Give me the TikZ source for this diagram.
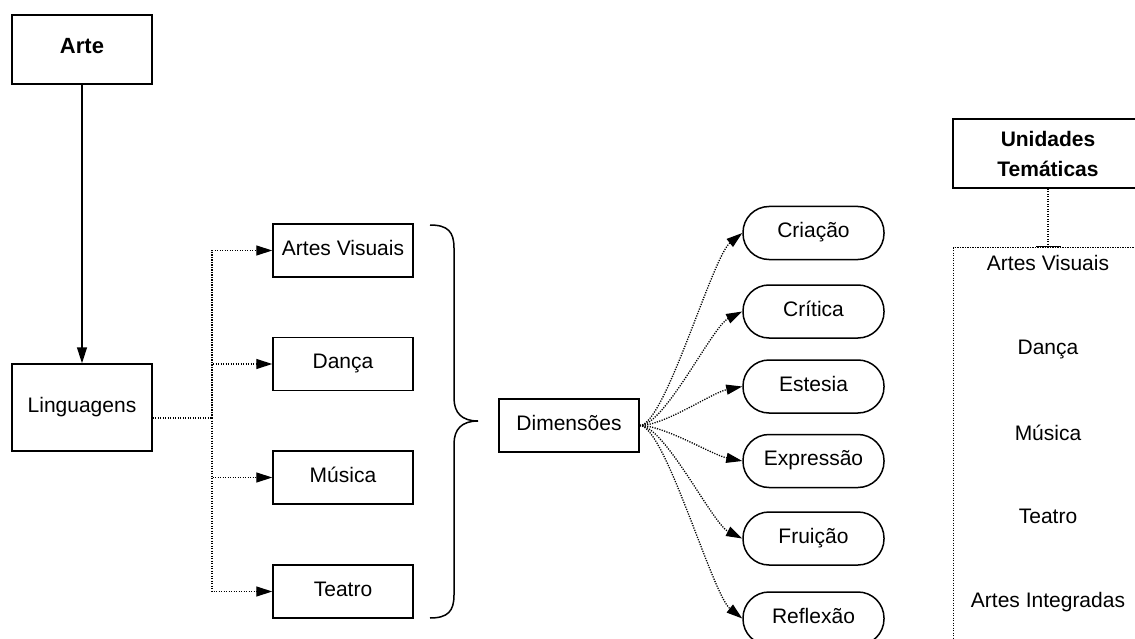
\documentclass[tikz,border=0pt]{standalone}
\usepackage{fontspec}
\setmainfont{Liberation Sans}
\usetikzlibrary{arrows.meta}
\begin{document}
\begin{tikzpicture}[x=1pt,y=-1pt,
  txt/.style={font=\fontsize{21}{25}\selectfont},
  basebox/.style={draw, line width=1.5pt, inner sep=0pt, minimum width=140pt,
    minimum height=53pt, align=center, txt},
  box/.style={basebox, text height=15pt, text depth=6pt},
  pill/.style={box, minimum width=141pt, rounded corners=26pt},
  lbl/.style={inner sep=0pt, txt, text height=15pt, text depth=0pt},
  dotline/.style={line width=1.3pt, dash pattern=on 1.2pt off 1.3pt},
  arrowhd/.style={-{Triangle[length=16pt,width=10pt]}},
]
\useasboundingbox (0,0) rectangle (1135,639);
\clip (0,0) rectangle (1135,639);

% main hierarchy
\node[box, minimum height=69pt, font=\bfseries\fontsize{22}{26}\selectfont] (arte) at (82,49.5) {Arte};
\node[box, minimum height=87pt] (ling) at (82,407.5) {Linguagens};
\draw[line width=1.5pt, arrowhd] (arte) -- (ling);

% languages
\node[box] (av) at (343,250.5) {Artes Visuais};
\node[box] (da) at (343,364) {Dança};
\node[box] (mu) at (343,477.5) {Música};
\node[box] (te) at (343,591.5) {Teatro};

\coordinate (trunk) at (212,418);
\draw[dotline] (ling.east |- trunk) -- (trunk);
\foreach \b in {av,da,mu,te}
  \draw[dotline, arrowhd] (trunk) |- (\b.west);

% curly brace grouping the languages
\draw[line width=1.5pt]
  (430,225) .. controls (448,225) and (454,232) .. (454,248) -- (454,398)
  .. controls (454,413) and (462,421) .. (478,421)
  .. controls (462,421) and (454,429) .. (454,444) -- (454,595)
  .. controls (454,611) and (448,618) .. (430,618);

% dimensions
\node[box] (dim) at (569,425.5) {Dimensões};
\node[pill] (cr) at (813.5,233) {Criação};
\node[pill] (ct) at (813.5,311.5) {Crítica};
\node[pill] (es) at (813.5,386.5) {Estesia};
\node[pill] (ex) at (813.5,461) {Expressão};
\node[pill] (fr) at (813.5,538.5) {Fruição};
\node[pill] (re) at (813.5,618.5) {Reflexão};

\draw[dotline, arrowhd] (dim.east) .. controls +(25,0) and +(-30,24) .. (cr.west);
\draw[dotline, arrowhd] (dim.east) .. controls +(25,0) and +(-30,15) .. (ct.west);
\draw[dotline, arrowhd] (dim.east) .. controls +(25,0) and +(-30,6) .. (es.west);
\draw[dotline, arrowhd] (dim.east) .. controls +(25,0) and +(-30,-6) .. (ex.west);
\draw[dotline, arrowhd] (dim.east) .. controls +(25,0) and +(-30,-15) .. (fr.west);
\draw[dotline, arrowhd] (dim.east) .. controls +(25,0) and +(-30,-24) .. (re.west);

% thematic units
\node[basebox, minimum width=190pt, minimum height=69pt,
  font=\bfseries\fontsize{21}{30}\selectfont] (ut) at (1048,153.5) {Unidades\\Temáticas};
\node[draw, dotline, inner sep=0pt, minimum width=230pt, minimum height=420pt,
  anchor=north west] (lane) at (953,247) {};
\draw[dotline, -{Bar[width=25pt,line width=1.5pt]}] (ut.south) -- (ut.south |- lane.north);

\node[lbl] (u1) at (1048,263) {Artes Visuais};
\node[lbl] (u2) at (1048,347) {Dança};
\node[lbl] (u3) at (1048,433) {Música};
\node[lbl] (u4) at (1048,516) {Teatro};
\node[lbl] (u5) at (1048,600) {Artes Integradas};
\end{tikzpicture}
\end{document}
